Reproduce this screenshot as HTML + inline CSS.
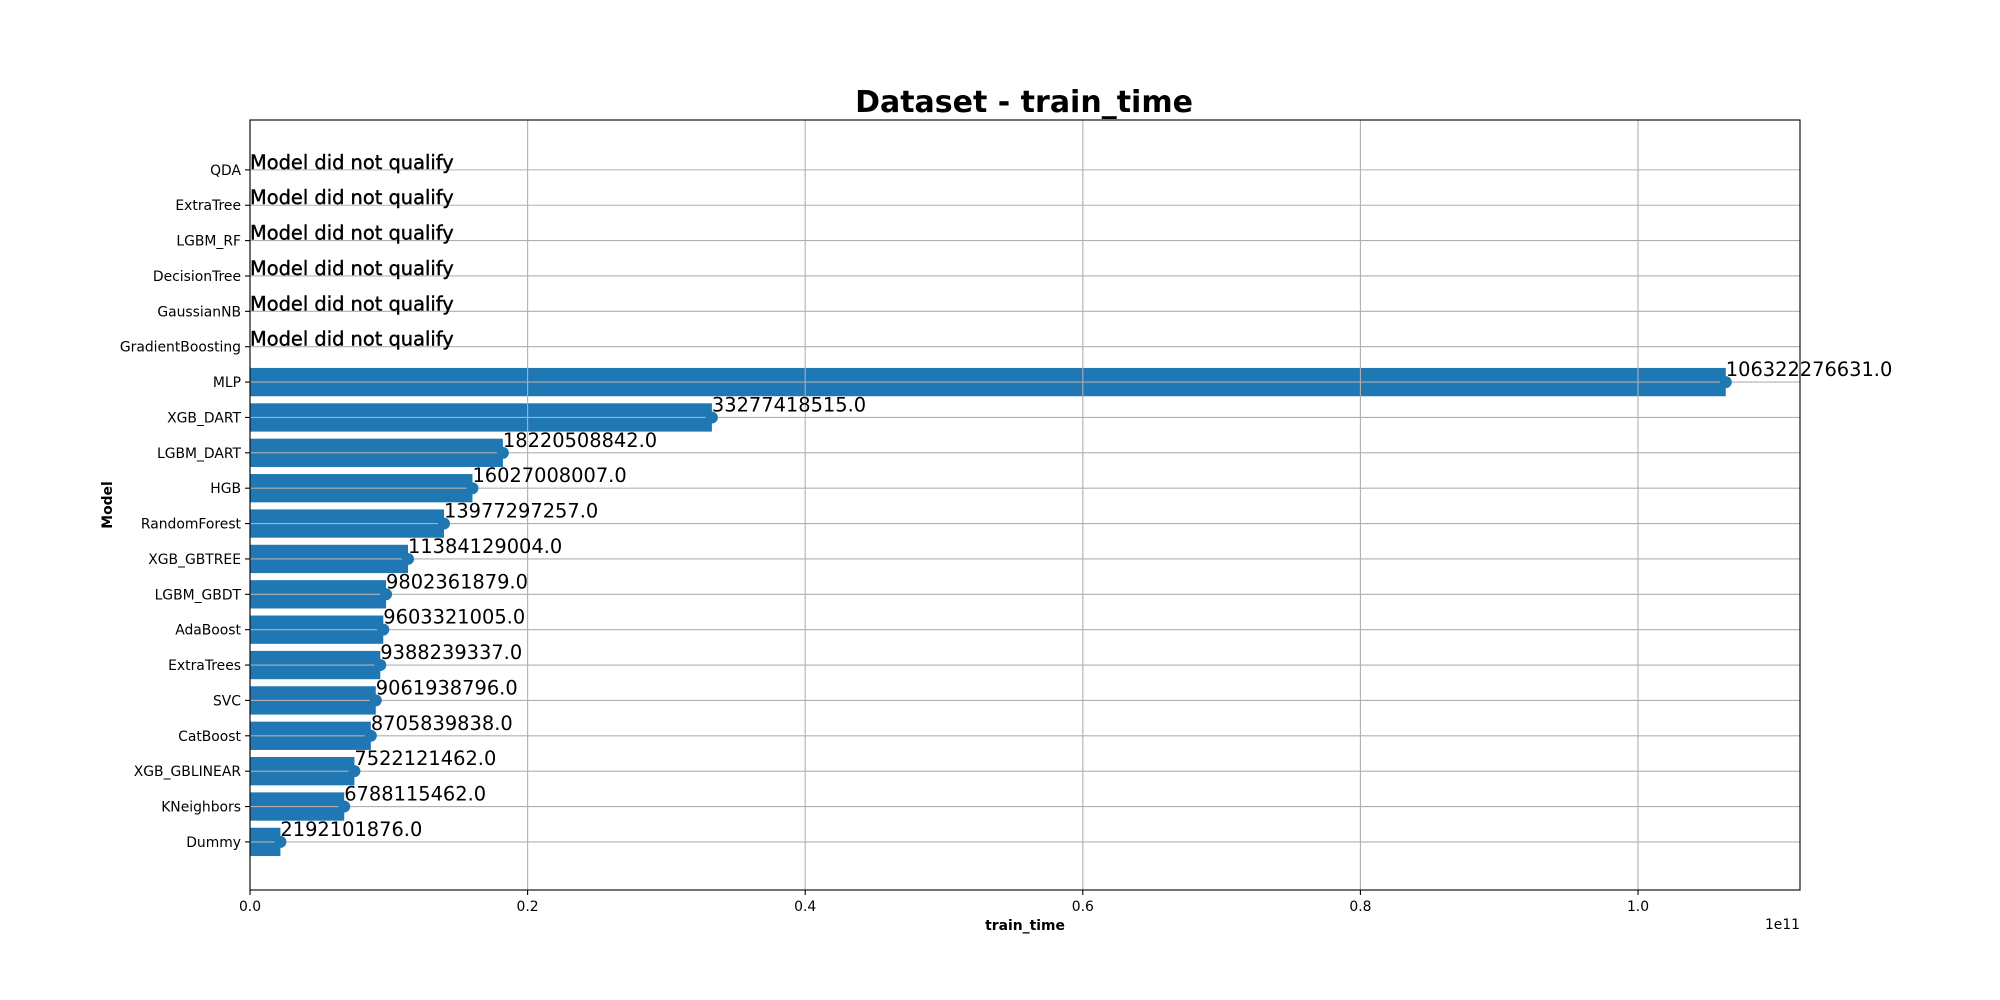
<!DOCTYPE html>
<html><head><meta charset="utf-8"><style>
html,body{margin:0;padding:0;background:#fff;}
svg{display:block;font-family:"DejaVu Sans","Liberation Sans",sans-serif;}
</style></head><body>
<svg id="chart" width="2000" height="1000" viewBox="0 0 2000 1000">
<text x="1024" y="112" text-anchor="middle" font-size="30" font-weight="bold">Dataset - train_time</text>
<g id="grid"></g><g id="bars"></g><g id="grid2"></g><g id="marks"></g><g id="labels"></g><g id="axes"></g>
<text x="1025" y="930" text-anchor="middle" font-size="13.9" font-weight="bold">train_time</text>
<text x="112" y="505" text-anchor="middle" font-size="13.9" font-weight="bold" transform="rotate(-90 112 505)">Model</text>
<text x="1800" y="929" text-anchor="end" font-size="13.9">1e11</text>
</svg>
<script>
const categories = ["Dummy","KNeighbors","XGB_GBLINEAR","CatBoost","SVC","ExtraTrees","AdaBoost","LGBM_GBDT","XGB_GBTREE","RandomForest","HGB","LGBM_DART","XGB_DART","MLP","GradientBoosting","GaussianNB","DecisionTree","LGBM_RF","ExtraTree","QDA"];
const values = [2192101876.0,6788115462.0,7522121462.0,8705839838.0,9061938796.0,9388239337.0,9603321005.0,9802361879.0,11384129004.0,13977297257.0,16027008007.0,18220508842.0,33277418515.0,106322276631.0,null,null,null,null,null,null];
const xTicks = [0,0.2e11,0.4e11,0.6e11,0.8e11,1.0e11];
const xTickLabels = ["0.0","0.2","0.4","0.6","0.8","1.0"];

const NS="http://www.w3.org/2000/svg";
const L=250,R=1800,T=120,B=890;
const xMax=1.1167e11;
const yMin=-1.36,yMax=20.41;
const xs=v=>L+(v/xMax)*(R-L);
const ys=i=>B-(i-yMin)/(yMax-yMin)*(B-T);
const bh=0.8*(B-T)/(yMax-yMin);
function mk(tag,attrs,parent,txt){const e=document.createElementNS(NS,tag);for(const k in attrs)e.setAttribute(k,attrs[k]);if(txt!==undefined)e.textContent=txt;document.getElementById(parent).appendChild(e);return e;}

xTicks.forEach((t,i)=>{
  const x=xs(t);
  const g=mk('line',{x1:x,x2:x,y1:T,y2:B,stroke:'#b0b0b0','stroke-width':1.1},'grid2');
  
  
  const tk=mk('line',{x1:x,x2:x,y1:B,y2:B+5,stroke:'#000','stroke-width':1.1},'axes');
  
  
  const tl=mk('text',{x:x,y:B+21,'text-anchor':'middle','font-size':13.9},'axes',xTickLabels[i]);
  
  
});
categories.forEach((c,i)=>{
  const y=ys(i);
  const g=mk('line',{x1:L,x2:R,y1:y,y2:y,stroke:'#b0b0b0','stroke-width':1.1},'grid2');
  
  
  const tk=mk('line',{x1:L-5,x2:L,y1:y,y2:y,stroke:'#000','stroke-width':1.1},'axes');
  
  
  const tl=mk('text',{x:L-9,y:y+5,'text-anchor':'end','font-size':13.9},'axes',c);
  
  
  const v=values[i];
  if(v!==null){
    const r=mk('rect',{x:L,y:y-bh/2,width:xs(v)-L,height:bh,fill:'#1f77b4'},'bars');
    
    
    const m=mk('circle',{cx:xs(v),cy:y,r:6,fill:'#1f77b4'},'marks');
    
    
    const t=mk('text',{x:xs(v),y:y-6,'font-size':19.4},'labels',v.toFixed(1));
    
    
  } else {
    const t=mk('text',{x:L,y:y-1,'font-size':19.4,stroke:'#000','stroke-width':0.4},'labels','Model did not qualify');
    
    
  }
});
const fr=mk('rect',{x:L,y:T,width:R-L,height:B-T,fill:'none',stroke:'#000','stroke-width':1.1},'axes');


</script>
</body></html>
